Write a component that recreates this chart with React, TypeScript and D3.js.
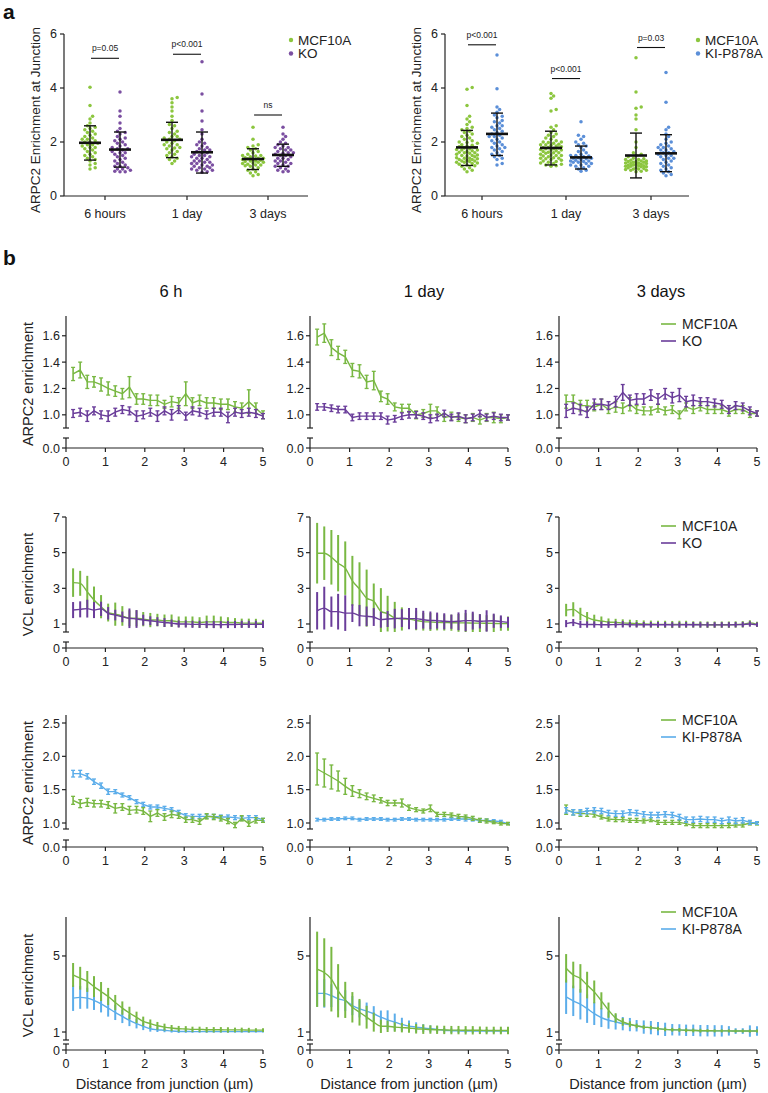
import React from 'react';
import * as d3 from 'd3';

const FONT = "'Liberation Sans', Arial, Helvetica, sans-serif";
const GREEN = '#79b843';
const PURPLE = '#6a3d9a';
const BLUE = '#5badea';
const DOT_GREEN = '#8cc63f';
const DOT_PURPLE = '#7b4fa1';
const DOT_BLUE = '#5b8fd8';

// ---------- Panel a data ----------
const timepoints = ['6 hours', '1 day', '3 days'];
const yTicksA = [0, 2, 4, 6];

const koWT6h = [4.03, 3.35, 2.95, 2.85, 2.7, 2.6, 2.55, 2.5, 2.45, 2.4, 2.35, 2.3, 2.25, 2.2, 2.15, 2.1, 2.05, 2.0, 1.95, 1.9, 1.85, 1.8, 1.8, 1.75, 1.7, 1.65, 1.6, 1.55, 1.5, 1.45, 1.4, 1.35, 1.3, 1.2, 1.15, 1.05, 1.0, 2.0, 2.1, 1.9];
const koKO6h = [3.85, 3.15, 2.95, 2.7, 2.5, 2.4, 2.35, 2.3, 2.2, 2.15, 2.1, 2.0, 1.95, 1.9, 1.85, 1.8, 1.75, 1.7, 1.65, 1.6, 1.55, 1.5, 1.45, 1.4, 1.35, 1.3, 1.25, 1.2, 1.15, 1.1, 1.05, 1.0, 0.95, 0.9, 0.9, 1.0, 2.05, 1.75, 1.6, 1.1, 0.92];
const koWT1d = [3.65, 3.6, 3.45, 3.3, 3.15, 2.95, 2.8, 2.65, 2.6, 2.5, 2.4, 2.35, 2.3, 2.2, 2.15, 2.1, 2.05, 2.0, 1.95, 1.9, 1.85, 1.8, 1.78, 1.7, 1.65, 1.6, 1.55, 1.5, 1.45, 1.4, 1.35, 1.3, 1.2, 2.2, 1.9, 2.1, 1.75];
const koKO1d = [4.97, 3.78, 3.15, 2.78, 2.45, 2.3, 2.1, 2.0, 1.95, 1.9, 1.85, 1.8, 1.75, 1.7, 1.65, 1.6, 1.55, 1.5, 1.45, 1.4, 1.35, 1.3, 1.25, 1.2, 1.15, 1.1, 1.05, 1.0, 0.95, 0.9, 0.88, 1.6, 1.5, 1.4, 1.3, 1.2, 1.1, 1.0, 1.25, 1.45, 1.7, 1.15, 1.05, 0.95];
const koWT3d = [2.55, 2.1, 1.9, 1.85, 1.8, 1.75, 1.7, 1.65, 1.6, 1.55, 1.5, 1.48, 1.45, 1.42, 1.4, 1.38, 1.35, 1.32, 1.3, 1.28, 1.25, 1.22, 1.2, 1.18, 1.15, 1.12, 1.1, 1.05, 1.0, 0.95, 0.9, 0.85, 0.8, 0.75, 1.3, 1.4, 1.25, 1.15, 1.35, 1.5];
const koKO3d = [2.55, 2.3, 2.2, 2.1, 2.0, 1.95, 1.9, 1.85, 1.8, 1.75, 1.7, 1.65, 1.6, 1.58, 1.55, 1.5, 1.45, 1.4, 1.35, 1.3, 1.25, 1.2, 1.15, 1.1, 1.05, 1.0, 0.95, 0.92, 0.9, 1.6, 1.5, 1.4, 1.3, 1.2, 1.1, 1.7, 1.8];
const koMean = [1.97, 1.72, 2.08, 1.62, 1.37, 1.52];
const koLo = [1.33, 1.07, 1.42, 0.85, 0.98, 1.1];
const koHi = [2.6, 2.37, 2.73, 2.37, 1.75, 1.92];
const koP = ['p=0.05', 'p<0.001', 'ns'];
const koPY = [5.1, 5.25, 3.0];

const kiWT6h = [4.02, 3.95, 3.35, 2.95, 2.85, 2.75, 2.65, 2.55, 2.5, 2.45, 2.4, 2.35, 2.3, 2.25, 2.2, 2.15, 2.1, 2.05, 2.0, 1.98, 1.95, 1.9, 1.88, 1.85, 1.82, 1.8, 1.78, 1.75, 1.72, 1.7, 1.68, 1.65, 1.62, 1.6, 1.58, 1.55, 1.52, 1.5, 1.48, 1.45, 1.42, 1.4, 1.38, 1.35, 1.32, 1.3, 1.28, 1.25, 1.22, 1.2, 1.18, 1.15, 1.12, 1.1, 1.05, 1.0, 0.95, 0.9, 1.3, 1.4, 1.5, 1.6, 1.7, 1.25, 1.35];
const kiKI6h = [5.22, 3.97, 3.3, 3.2, 3.1, 3.0, 2.95, 2.9, 2.8, 2.75, 2.7, 2.6, 2.55, 2.5, 2.45, 2.4, 2.35, 2.3, 2.25, 2.2, 2.15, 2.1, 2.05, 2.0, 1.95, 1.9, 1.85, 1.8, 1.75, 1.7, 1.65, 1.6, 1.55, 1.5, 1.45, 1.4, 1.35, 1.2, 1.15, 2.6, 2.2, 1.8];
const kiWT1d = [3.8, 3.7, 3.62, 3.2, 3.15, 2.6, 2.55, 2.45, 2.35, 2.3, 2.25, 2.2, 2.15, 2.1, 2.05, 2.0, 1.98, 1.95, 1.92, 1.9, 1.88, 1.85, 1.82, 1.8, 1.78, 1.75, 1.72, 1.7, 1.68, 1.65, 1.62, 1.6, 1.58, 1.55, 1.52, 1.5, 1.48, 1.45, 1.42, 1.4, 1.38, 1.35, 1.32, 1.3, 1.28, 1.25, 1.22, 1.2, 1.18, 1.15, 1.12, 1.1, 1.6, 1.7, 1.8, 1.9, 1.5, 1.4, 2.0, 1.75];
const kiKI1d = [2.75, 2.25, 2.2, 2.1, 2.0, 1.95, 1.9, 1.85, 1.8, 1.7, 1.65, 1.6, 1.55, 1.5, 1.48, 1.45, 1.42, 1.4, 1.38, 1.35, 1.32, 1.3, 1.28, 1.25, 1.2, 1.15, 1.1, 1.05, 1.0, 0.95, 0.92, 1.3, 1.2, 1.1, 1.4, 1.5, 1.25, 1.15];
const kiWT3d = [5.12, 3.85, 3.3, 3.25, 3.0, 2.85, 2.45, 2.0, 1.8, 1.6, 1.55, 1.5, 1.45, 1.4, 1.38, 1.35, 1.32, 1.3, 1.28, 1.25, 1.22, 1.2, 1.18, 1.15, 1.12, 1.1, 1.08, 1.05, 1.02, 1.0, 0.98, 0.95, 0.92, 0.9, 1.1, 1.2, 1.3, 1.15, 1.25, 1.05, 1.35, 1.0, 1.12, 1.22, 1.18, 1.28, 0.95, 1.08];
const kiKI3d = [4.57, 3.47, 2.55, 2.45, 2.3, 2.2, 2.1, 2.0, 1.95, 1.9, 1.85, 1.8, 1.75, 1.7, 1.65, 1.6, 1.55, 1.5, 1.45, 1.4, 1.35, 1.3, 1.25, 1.2, 1.15, 1.1, 1.05, 1.0, 0.95, 0.9, 0.85, 0.8, 0.75, 1.6, 1.5, 1.4, 1.8, 1.7];
const kiMean = [1.8, 2.3, 1.78, 1.43, 1.5, 1.58];
const kiLo = [1.13, 1.5, 1.15, 1.0, 0.67, 0.9];
const kiHi = [2.43, 3.07, 2.4, 1.85, 2.33, 2.27];
const kiP = ['p<0.001', 'p<0.001', 'p=0.03'];
const kiPY = [5.6, 4.35, 5.5];

// ---------- Panel b data ----------
const distance = [0.18, 0.36, 0.54, 0.71, 0.89, 1.07, 1.25, 1.43, 1.61, 1.79, 1.96, 2.14, 2.32, 2.5, 2.68, 2.86, 3.04, 3.21, 3.39, 3.57, 3.75, 3.93, 4.11, 4.29, 4.46, 4.64, 4.82, 5.0];
const xTicksB = [0, 1, 2, 3, 4, 5];
const colTitles = ['6 h', '1 day', '3 days'];

// Row 1: ARPC2, MCF10A vs KO
const r1WT6h = [1.31, 1.34, 1.25, 1.25, 1.23, 1.2, 1.18, 1.16, 1.21, 1.12, 1.12, 1.11, 1.11, 1.08, 1.1, 1.09, 1.16, 1.09, 1.11, 1.09, 1.09, 1.08, 1.08, 1.06, 1.05, 1.1, 1.05, 1.0];
const r1WT6hE = [0.05, 0.06, 0.05, 0.04, 0.05, 0.05, 0.04, 0.04, 0.08, 0.04, 0.04, 0.04, 0.04, 0.03, 0.04, 0.04, 0.09, 0.04, 0.04, 0.04, 0.04, 0.04, 0.04, 0.04, 0.04, 0.09, 0.04, 0.03];
const r1KO6h = [1.01, 1.02, 0.99, 1.03, 1.0, 0.99, 1.02, 1.04, 1.03, 0.99, 1.0, 1.02, 0.99, 1.03, 1.0, 1.04, 0.99, 1.03, 1.02, 1.0, 1.02, 1.02, 0.98, 1.02, 1.01, 1.02, 1.01, 0.99];
const r1KO6hE = [0.03, 0.03, 0.04, 0.03, 0.03, 0.04, 0.03, 0.03, 0.03, 0.04, 0.03, 0.03, 0.04, 0.03, 0.04, 0.03, 0.03, 0.03, 0.03, 0.03, 0.03, 0.03, 0.04, 0.03, 0.03, 0.03, 0.03, 0.02];
const r1WT1d = [1.59, 1.62, 1.51, 1.47, 1.44, 1.34, 1.33, 1.25, 1.26, 1.14, 1.12, 1.06, 1.05, 1.05, 1.0, 1.01, 1.03, 1.03, 0.98, 0.99, 0.98, 0.97, 0.98, 0.96, 0.98, 0.98, 0.97, 0.98];
const r1WT1dE = [0.06, 0.07, 0.06, 0.05, 0.05, 0.05, 0.05, 0.05, 0.07, 0.04, 0.04, 0.03, 0.03, 0.03, 0.03, 0.03, 0.05, 0.03, 0.03, 0.03, 0.03, 0.03, 0.03, 0.03, 0.03, 0.04, 0.03, 0.02];
const r1KO1d = [1.06, 1.06, 1.05, 1.04, 1.04, 0.98, 0.99, 0.99, 0.99, 0.99, 0.96, 0.97, 0.99, 1.0, 1.0, 0.99, 0.97, 0.98, 1.01, 0.98, 0.99, 0.97, 0.98, 1.01, 0.98, 0.99, 0.98, 0.98];
const r1KO1dE = [0.025, 0.025, 0.025, 0.025, 0.025, 0.025, 0.025, 0.025, 0.025, 0.025, 0.03, 0.025, 0.025, 0.025, 0.025, 0.025, 0.03, 0.025, 0.025, 0.025, 0.025, 0.03, 0.025, 0.025, 0.025, 0.025, 0.025, 0.02];
const r1WT3d = [1.1, 1.1, 1.07, 1.07, 1.06, 1.08, 1.04, 1.06, 1.05, 1.08, 1.04, 1.03, 1.03, 1.05, 1.03, 1.04, 1.0, 1.06, 1.04, 1.06, 1.04, 1.04, 1.04, 1.02, 1.04, 1.04, 1.01, 1.01];
const r1WT3dE = [0.05, 0.05, 0.04, 0.04, 0.03, 0.04, 0.03, 0.04, 0.04, 0.05, 0.03, 0.03, 0.03, 0.03, 0.03, 0.03, 0.03, 0.03, 0.03, 0.03, 0.03, 0.03, 0.03, 0.03, 0.03, 0.03, 0.03, 0.02];
const r1KO3d = [1.03, 1.05, 1.04, 1.02, 1.08, 1.08, 1.07, 1.1, 1.17, 1.11, 1.12, 1.12, 1.15, 1.12, 1.16, 1.13, 1.15, 1.1, 1.11, 1.1, 1.1, 1.09, 1.08, 1.04, 1.07, 1.06, 1.03, 1.01];
const r1KO3dE = [0.05, 0.04, 0.04, 0.04, 0.04, 0.04, 0.03, 0.04, 0.06, 0.04, 0.04, 0.04, 0.04, 0.04, 0.04, 0.04, 0.05, 0.04, 0.04, 0.03, 0.03, 0.03, 0.03, 0.03, 0.03, 0.03, 0.03, 0.02];

// Row 2: VCL, MCF10A vs KO
const r2WT6h = [3.32, 3.28, 2.8, 2.35, 1.97, 1.64, 1.55, 1.45, 1.32, 1.32, 1.27, 1.22, 1.22, 1.18, 1.18, 1.12, 1.12, 1.12, 1.08, 1.12, 1.12, 1.12, 1.08, 1.08, 1.05, 1.05, 1.04, 1.04];
const r2WT6hE = [0.8, 0.7, 0.9, 0.75, 0.65, 0.5, 0.65, 0.55, 0.45, 0.45, 0.4, 0.4, 0.35, 0.35, 0.35, 0.3, 0.3, 0.3, 0.3, 0.35, 0.35, 0.3, 0.3, 0.25, 0.25, 0.25, 0.25, 0.2];
const r2KO6h = [1.78, 1.82, 1.86, 1.78, 1.85, 1.6, 1.5, 1.4, 1.32, 1.28, 1.22, 1.18, 1.13, 1.08, 1.05, 1.0, 1.0, 0.98, 0.98, 0.97, 0.97, 0.96, 0.97, 0.97, 0.98, 0.98, 0.98, 0.98];
const r2KO6hE = [0.45, 0.45, 0.5, 0.45, 0.4, 0.35, 0.3, 0.3, 0.55, 0.5, 0.3, 0.25, 0.25, 0.25, 0.2, 0.2, 0.2, 0.2, 0.2, 0.2, 0.2, 0.2, 0.2, 0.2, 0.2, 0.2, 0.2, 0.2];
const r2WT1d = [4.97, 4.97, 4.74, 4.41, 4.13, 3.42, 2.96, 2.45, 2.27, 1.71, 1.58, 1.34, 1.28, 1.28, 1.2, 1.13, 1.11, 1.09, 1.08, 1.07, 1.06, 1.06, 1.05, 1.05, 1.04, 1.03, 1.02, 1.02];
const r2WT1dE = [1.7, 1.5, 1.53, 1.58, 1.5, 1.4, 1.5, 1.6, 1.0, 1.3, 1.0, 0.9, 0.65, 0.55, 0.55, 0.5, 0.5, 0.45, 0.45, 0.45, 0.5, 0.55, 0.55, 0.5, 0.45, 0.5, 0.4, 0.4];
const r2KO1d = [1.74, 1.89, 1.69, 1.69, 1.61, 1.61, 1.47, 1.43, 1.39, 1.24, 1.28, 1.3, 1.33, 1.3, 1.3, 1.24, 1.2, 1.19, 1.15, 1.13, 1.15, 1.19, 1.19, 1.15, 1.17, 1.18, 1.13, 1.09];
const r2KO1dE = [1.05, 1.2, 0.85, 1.0, 1.0, 0.5, 0.6, 0.55, 0.5, 0.45, 0.45, 0.55, 0.5, 0.6, 0.6, 0.5, 0.5, 0.45, 0.45, 0.4, 0.5, 0.6, 0.5, 0.4, 0.6, 0.4, 0.35, 0.3];
const r2WT3d = [1.78, 1.82, 1.56, 1.37, 1.22, 1.17, 1.11, 1.09, 1.06, 1.04, 1.02, 1.0, 0.99, 0.98, 0.98, 0.97, 0.98, 0.98, 0.97, 0.97, 0.96, 0.96, 0.96, 0.96, 0.97, 0.98, 1.06, 0.98];
const r2WT3dE = [0.35, 0.4, 0.35, 0.3, 0.3, 0.25, 0.2, 0.2, 0.2, 0.2, 0.2, 0.2, 0.2, 0.2, 0.2, 0.2, 0.2, 0.2, 0.18, 0.18, 0.18, 0.18, 0.18, 0.18, 0.18, 0.18, 0.15, 0.15];
const r2KO3d = [1.02, 1.08, 0.98, 0.97, 0.97, 0.96, 0.96, 0.97, 0.98, 0.96, 0.95, 0.96, 0.96, 0.96, 0.96, 0.95, 0.95, 0.96, 0.96, 0.95, 0.95, 0.95, 0.95, 0.95, 0.96, 0.97, 1.0, 0.96];
const r2KO3dE = [0.2, 0.2, 0.2, 0.18, 0.18, 0.18, 0.18, 0.18, 0.18, 0.15, 0.15, 0.15, 0.15, 0.15, 0.15, 0.15, 0.15, 0.15, 0.15, 0.15, 0.15, 0.15, 0.15, 0.15, 0.15, 0.15, 0.15, 0.12];

// Row 3: ARPC2, MCF10A vs KI-P878A
const r3WT6h = [1.34, 1.29, 1.31, 1.29, 1.29, 1.27, 1.22, 1.24, 1.19, 1.2, 1.18, 1.1, 1.15, 1.09, 1.13, 1.11, 1.05, 1.05, 1.02, 1.1, 1.09, 1.07, 1.03, 0.97, 1.07, 0.99, 1.04, 1.04];
const r3WT6hE = [0.06, 0.06, 0.06, 0.05, 0.05, 0.05, 0.07, 0.05, 0.06, 0.05, 0.05, 0.08, 0.05, 0.05, 0.05, 0.04, 0.04, 0.04, 0.04, 0.04, 0.04, 0.04, 0.04, 0.04, 0.04, 0.04, 0.04, 0.03];
const r3KI6h = [1.74, 1.74, 1.7, 1.62, 1.56, 1.47, 1.47, 1.42, 1.38, 1.32, 1.28, 1.24, 1.24, 1.22, 1.2, 1.16, 1.11, 1.1, 1.1, 1.1, 1.1, 1.09, 1.09, 1.08, 1.07, 1.08, 1.08, 1.05];
const r3KI6hE = [0.05, 0.05, 0.04, 0.04, 0.04, 0.04, 0.03, 0.03, 0.03, 0.03, 0.03, 0.03, 0.03, 0.03, 0.03, 0.03, 0.03, 0.03, 0.03, 0.03, 0.03, 0.03, 0.03, 0.03, 0.03, 0.03, 0.03, 0.02];
const r3WT1d = [1.81, 1.75, 1.69, 1.63, 1.55, 1.48, 1.44, 1.4, 1.37, 1.34, 1.3, 1.3, 1.3, 1.23, 1.2, 1.18, 1.22, 1.13, 1.13, 1.12, 1.1, 1.09, 1.07, 1.04, 1.03, 1.01, 0.99, 0.99];
const r3WT1dE = [0.24, 0.21, 0.18, 0.15, 0.12, 0.08, 0.06, 0.05, 0.05, 0.04, 0.04, 0.04, 0.06, 0.04, 0.03, 0.03, 0.05, 0.03, 0.03, 0.03, 0.03, 0.03, 0.03, 0.03, 0.03, 0.02, 0.02, 0.02];
const r3KI1d = [1.05, 1.05, 1.06, 1.06, 1.07, 1.07, 1.05, 1.06, 1.06, 1.06, 1.05, 1.05, 1.06, 1.06, 1.05, 1.05, 1.05, 1.05, 1.05, 1.06, 1.06, 1.06, 1.05, 1.04, 1.04, 1.03, 1.02, 0.99];
const r3KI1dE = [0.02, 0.02, 0.02, 0.02, 0.02, 0.02, 0.02, 0.02, 0.02, 0.02, 0.02, 0.02, 0.02, 0.02, 0.02, 0.02, 0.02, 0.02, 0.02, 0.02, 0.02, 0.03, 0.02, 0.02, 0.02, 0.02, 0.02, 0.01];
const r3WT3d = [1.2, 1.16, 1.14, 1.14, 1.13, 1.09, 1.06, 1.05, 1.05, 1.04, 1.04, 1.03, 1.05, 1.01, 1.01, 1.01, 1.01, 0.99, 0.96, 0.96, 0.96, 0.96, 0.96, 0.96, 0.97, 0.97, 1.0, 0.99];
const r3WT3dE = [0.07, 0.04, 0.04, 0.04, 0.04, 0.03, 0.03, 0.03, 0.03, 0.03, 0.03, 0.03, 0.03, 0.03, 0.03, 0.03, 0.03, 0.03, 0.03, 0.03, 0.03, 0.03, 0.03, 0.03, 0.03, 0.03, 0.03, 0.02];
const r3KI3d = [1.19, 1.16, 1.16, 1.18, 1.19, 1.18, 1.15, 1.14, 1.14, 1.16, 1.15, 1.13, 1.12, 1.12, 1.13, 1.12, 1.09, 1.05, 1.05, 1.06, 1.05, 1.05, 1.03, 1.05, 1.03, 1.04, 1.01, 1.0];
const r3KI3dE = [0.04, 0.04, 0.04, 0.04, 0.04, 0.04, 0.04, 0.04, 0.04, 0.04, 0.04, 0.04, 0.04, 0.04, 0.04, 0.04, 0.04, 0.04, 0.04, 0.04, 0.04, 0.04, 0.04, 0.04, 0.04, 0.04, 0.03, 0.02];

// Row 4: VCL, MCF10A vs KI-P878A
const r4WT6h = [4.0, 3.83, 3.66, 3.39, 3.13, 2.87, 2.55, 2.26, 2.0, 1.77, 1.56, 1.44, 1.33, 1.26, 1.21, 1.17, 1.16, 1.14, 1.14, 1.12, 1.12, 1.12, 1.11, 1.11, 1.11, 1.1, 1.1, 1.1];
const r4WT6hE = [0.63, 0.6, 0.55, 0.55, 0.5, 0.45, 0.4, 0.35, 0.33, 0.3, 0.25, 0.22, 0.2, 0.18, 0.16, 0.15, 0.15, 0.14, 0.14, 0.14, 0.14, 0.14, 0.14, 0.12, 0.12, 0.12, 0.1, 0.1];
const r4KI6h = [2.78, 2.82, 2.78, 2.66, 2.48, 2.26, 2.03, 1.82, 1.61, 1.44, 1.3, 1.17, 1.12, 1.09, 1.05, 1.03, 1.03, 1.02, 1.02, 1.02, 1.02, 1.02, 1.02, 1.02, 1.02, 1.02, 1.02, 1.02];
const r4KI6hE = [0.67, 0.6, 0.55, 0.5, 0.45, 0.45, 0.4, 0.35, 0.3, 0.25, 0.2, 0.15, 0.12, 0.1, 0.08, 0.08, 0.07, 0.06, 0.06, 0.06, 0.05, 0.05, 0.05, 0.05, 0.05, 0.05, 0.05, 0.05];
const r4WT1d = [4.3, 4.13, 3.78, 3.17, 2.69, 2.3, 2.04, 1.78, 1.52, 1.3, 1.3, 1.26, 1.23, 1.21, 1.17, 1.15, 1.13, 1.12, 1.11, 1.1, 1.1, 1.09, 1.09, 1.09, 1.08, 1.08, 1.08, 1.08];
const r4WT1dE = [1.98, 1.8, 1.7, 1.4, 0.95, 0.8, 0.7, 0.6, 0.5, 0.35, 0.3, 0.25, 0.25, 0.25, 0.25, 0.25, 0.22, 0.22, 0.22, 0.22, 0.22, 0.22, 0.22, 0.2, 0.2, 0.2, 0.2, 0.2];
const r4KI1d = [3.03, 3.03, 2.91, 2.74, 2.65, 2.39, 2.22, 2.1, 1.96, 1.78, 1.64, 1.52, 1.4, 1.31, 1.26, 1.21, 1.17, 1.14, 1.09, 1.07, 1.06, 1.05, 1.05, 1.05, 1.05, 1.05, 1.05, 1.05];
const r4KI1dE = [0.7, 0.75, 0.6, 0.6, 0.55, 0.5, 0.45, 0.45, 0.4, 0.35, 0.5, 0.45, 0.35, 0.3, 0.25, 0.2, 0.18, 0.15, 0.12, 0.12, 0.1, 0.1, 0.1, 0.1, 0.1, 0.1, 0.1, 0.1];
const r4WT3d = [4.35, 4.0, 3.82, 3.47, 3.11, 2.64, 2.15, 1.74, 1.53, 1.41, 1.32, 1.26, 1.23, 1.18, 1.14, 1.12, 1.11, 1.09, 1.08, 1.07, 1.07, 1.06, 1.06, 1.06, 1.05, 1.05, 1.05, 1.05];
const r4WT3dE = [0.75, 0.7, 0.75, 0.7, 0.6, 0.45, 0.4, 0.25, 0.2, 0.15, 0.12, 0.1, 0.1, 0.1, 0.1, 0.1, 0.1, 0.1, 0.1, 0.1, 0.08, 0.08, 0.08, 0.08, 0.08, 0.08, 0.08, 0.08];
const r4KI3d = [2.85, 2.64, 2.46, 2.23, 1.97, 1.76, 1.62, 1.53, 1.44, 1.39, 1.33, 1.26, 1.23, 1.18, 1.14, 1.12, 1.11, 1.09, 1.09, 1.07, 1.07, 1.06, 1.06, 1.06, 1.05, 1.05, 1.05, 1.05];
const r4KI3dE = [0.9, 0.8, 0.8, 0.75, 0.6, 0.5, 0.45, 0.4, 0.35, 0.35, 0.3, 0.35, 0.35, 0.35, 0.35, 0.3, 0.3, 0.3, 0.3, 0.3, 0.3, 0.3, 0.3, 0.25, 0.15, 0.15, 0.3, 0.25];

// ---------- helpers ----------
type Pt = { x: number; y: number };
// Deterministic beeswarm layout, limited to a maximum half-width.
function swarm(values: number[], cx: number, y: (v: number) => number, minD: number, maxOff: number): Pt[] {
  const sorted = values.slice().sort((a, b) => a - b);
  const placed: Pt[] = [];
  const step = 2.6;
  const offsets: number[] = [0];
  for (let k = 1; k * step <= maxOff; k++) offsets.push(k * step, -k * step);
  for (const v of sorted) {
    const py = y(v);
    let best = offsets[0];
    let bestD = -1;
    let done = false;
    for (const off of offsets) {
      const px = cx + off;
      let nearest = Infinity;
      for (const p of placed) {
        const dd = Math.hypot(p.x - px, p.y - py);
        if (dd < nearest) nearest = dd;
      }
      if (nearest >= minD) {
        placed.push({ x: px, y: py });
        done = true;
        break;
      }
      if (nearest > bestD) {
        bestD = nearest;
        best = off;
      }
    }
    if (!done) placed.push({ x: cx + best, y: py });
  }
  return placed;
}

type ScatterProps = {
  axX: number;
  axEnd: number;
  tickX: number[];
  groups: number[][];
  colors: string[];
  means: number[];
  lo: number[];
  hi: number[];
  pLabels: string[];
  pY: number[];
  legend: string[];
  legendX: number;
};

function ScatterPanel(p: ScatterProps) {
  const y = d3.scaleLinear().domain([0, 6]).range([196, 34]);
  const off = 15;
  const centers: number[] = [];
  p.tickX.forEach((t) => {
    centers.push(t - off, t + off);
  });
  return (
    <g fontFamily={FONT}>
      {p.groups.map((vals, gi) =>
        swarm(vals, centers[gi], y, 3.3, 11).map((pt, i) => (
          <circle key={`${gi}-${i}`} cx={pt.x} cy={pt.y} r={1.75} fill={p.colors[gi % 2]} />
        ))
      )}
      {p.means.map((m, gi) => (
        <g key={`m${gi}`} stroke="#111" fill="none">
          <line x1={centers[gi]} x2={centers[gi]} y1={y(p.lo[gi])} y2={y(p.hi[gi])} strokeWidth={1.4} />
          <line x1={centers[gi] - 6} x2={centers[gi] + 6} y1={y(p.lo[gi])} y2={y(p.lo[gi])} strokeWidth={1.4} />
          <line x1={centers[gi] - 6} x2={centers[gi] + 6} y1={y(p.hi[gi])} y2={y(p.hi[gi])} strokeWidth={1.4} />
          <line x1={centers[gi] - 11} x2={centers[gi] + 11} y1={y(m)} y2={y(m)} strokeWidth={2.6} />
        </g>
      ))}
      {p.pLabels.map((lab, i) => (
        <g key={`p${i}`}>
          <line x1={centers[2 * i] + 1} x2={centers[2 * i + 1] - 1} y1={y(p.pY[i])} y2={y(p.pY[i])} stroke="#111" strokeWidth={1.1} />
          <text x={p.tickX[i]} y={y(p.pY[i]) - 7} fontSize={8.5} textAnchor="middle" fill="#222">{lab}</text>
        </g>
      ))}
      {/* axes */}
      <line x1={p.axX} x2={p.axX} y1={y(6)} y2={y(0)} stroke="#222" strokeWidth={1.2} />
      <line x1={p.axX} x2={p.axEnd} y1={y(0)} y2={y(0)} stroke="#222" strokeWidth={1.2} />
      {yTicksA.map((t) => (
        <g key={`yt${t}`}>
          <line x1={p.axX - 4} x2={p.axX} y1={y(t)} y2={y(t)} stroke="#222" strokeWidth={1.2} />
          <text x={p.axX - 7} y={y(t) + 4} fontSize={12.5} textAnchor="end" fill="#222">{t}</text>
        </g>
      ))}
      {p.tickX.map((t, i) => (
        <g key={`xt${i}`}>
          <line x1={t} x2={t} y1={y(0)} y2={y(0) + 4} stroke="#222" strokeWidth={1.2} />
          <text x={t} y={y(0) + 22} fontSize={12.5} textAnchor="middle" fill="#222">{timepoints[i]}</text>
        </g>
      ))}
      <text transform={`translate(${p.axX - 24},${(y(0) + y(6)) / 2 + 5}) rotate(-90)`} fontSize={13.5} textAnchor="middle" fill="#222">
        ARPC2 Enrichment at Junction
      </text>
      {p.legend.map((l, i) => (
        <g key={`lg${i}`}>
          <circle cx={p.legendX} cy={40 + i * 13.5} r={2.2} fill={p.colors[i]} />
          <text x={p.legendX + 7} y={44.5 + i * 13.5} fontSize={13.5} fill="#222">{l}</text>
        </g>
      ))}
    </g>
  );
}

type Series = { mean: number[]; err: number[]; color: string };
type LineProps = {
  x0: number;
  x1: number;
  dom: [number, number];
  rng: [number, number];
  lower: [number, number];
  ticks: number[];
  fmt: (v: number) => string;
  zeroLabel: string;
  series: Series[];
  caps: boolean;
  smooth: boolean;
  showYLabel?: string;
  xLabel?: boolean;
};

function LinePanel(p: LineProps) {
  const x = d3.scaleLinear().domain([0, 5]).range([p.x0, p.x1]);
  const y = d3.scaleLinear().domain(p.dom).range(p.rng);
  const cl = (v: number) => Math.max(p.dom[0], Math.min(p.dom[1], v));
  const line = d3
    .line<number>()
    .x((_, i) => x(distance[i]))
    .y((d) => y(d))
    .curve(p.smooth ? d3.curveMonotoneX : d3.curveLinear);
  const zero = p.lower[1];
  return (
    <g fontFamily={FONT}>
      {p.series.map((s, si) => (
        <g key={si} stroke={s.color} fill="none">
          {s.mean.map((m, i) => {
            const xi = x(distance[i]);
            const a = y(cl(m - s.err[i]));
            const b = y(cl(m + s.err[i]));
            return (
              <g key={i}>
                <line x1={xi} x2={xi} y1={a} y2={b} strokeWidth={p.caps ? 1.6 : 2} />
                {p.caps && (
                  <>
                    <line x1={xi - 2} x2={xi + 2} y1={a} y2={a} strokeWidth={1.3} />
                    <line x1={xi - 2} x2={xi + 2} y1={b} y2={b} strokeWidth={1.3} />
                  </>
                )}
              </g>
            );
          })}
          <path d={line(s.mean) || ''} strokeWidth={1.4} />
        </g>
      ))}
      {/* y axis upper */}
      <line x1={p.x0} x2={p.x0} y1={p.rng[0]} y2={p.rng[1]} stroke="#222" strokeWidth={1.2} />
      <line x1={p.x0 - 3} x2={p.x0 + 3} y1={p.rng[0]} y2={p.rng[0]} stroke="#222" strokeWidth={1.2} />
      {p.ticks.map((t) => (
        <g key={`t${t}`}>
          <line x1={p.x0 - 4} x2={p.x0} y1={y(t)} y2={y(t)} stroke="#222" strokeWidth={1.2} />
          <text x={p.x0 - 6} y={y(t) + 4.5} fontSize={12.5} textAnchor="end" fill="#222">{p.fmt(t)}</text>
        </g>
      ))}
      {/* y axis lower */}
      <line x1={p.x0} x2={p.x0} y1={p.lower[0]} y2={zero} stroke="#222" strokeWidth={1.2} />
      <line x1={p.x0 - 3} x2={p.x0 + 3} y1={p.lower[0]} y2={p.lower[0]} stroke="#222" strokeWidth={1.2} />
      <line x1={p.x0 - 4} x2={p.x0} y1={zero} y2={zero} stroke="#222" strokeWidth={1.2} />
      <text x={p.x0 - 6} y={zero + 4.5} fontSize={12.5} textAnchor="end" fill="#222">{p.zeroLabel}</text>
      {/* x axis */}
      <line x1={p.x0} x2={p.x1} y1={zero} y2={zero} stroke="#222" strokeWidth={1.2} />
      {xTicksB.map((t) => (
        <g key={`x${t}`}>
          <line x1={x(t)} x2={x(t)} y1={zero} y2={zero + 4} stroke="#222" strokeWidth={1.2} />
          <text x={x(t)} y={zero + 18} fontSize={12.5} textAnchor="middle" fill="#222">{t}</text>
        </g>
      ))}
      {p.showYLabel && (
        <text transform={`translate(${p.x0 - 33},${(p.rng[1] + zero) / 2 + 2}) rotate(-90)`} fontSize={14.5} textAnchor="middle" fill="#222">
          {p.showYLabel}
        </text>
      )}
      {p.xLabel && (
        <text x={(p.x0 + p.x1) / 2} y={zero + 39} fontSize={14.5} textAnchor="middle" fill="#222">
          Distance from junction (µm)
        </text>
      )}
    </g>
  );
}

const cols: [number, number][] = [
  [66, 263],
  [310, 508],
  [559, 757],
];
const titleX = [171, 424, 661];

type RowSpec = {
  dom: [number, number];
  rng: [number, number];
  lower: [number, number];
  ticks: number[];
  fmt: (v: number) => string;
  zeroLabel: string;
  caps: boolean;
  smooth: boolean;
  label: string;
  legend: string[];
  legendColors: string[];
  legendY: number;
  data: Series[][];
};

const rows: RowSpec[] = [
  {
    dom: [0.9, 1.75], rng: [428, 316], lower: [438, 448], ticks: [1.0, 1.2, 1.4, 1.6], fmt: (v) => v.toFixed(1), zeroLabel: '0.0',
    caps: true, smooth: false, label: 'ARPC2 enrichment', legend: ['MCF10A', 'KO'], legendColors: [GREEN, PURPLE], legendY: 324,
    data: [
      [{ mean: r1WT6h, err: r1WT6hE, color: GREEN }, { mean: r1KO6h, err: r1KO6hE, color: PURPLE }],
      [{ mean: r1WT1d, err: r1WT1dE, color: GREEN }, { mean: r1KO1d, err: r1KO1dE, color: PURPLE }],
      [{ mean: r1WT3d, err: r1WT3dE, color: GREEN }, { mean: r1KO3d, err: r1KO3dE, color: PURPLE }],
    ],
  },
  {
    dom: [0.55, 7], rng: [632, 517], lower: [642, 648], ticks: [1, 3, 5, 7], fmt: (v) => String(v), zeroLabel: '0',
    caps: false, smooth: true, label: 'VCL enrichment', legend: ['MCF10A', 'KO'], legendColors: [GREEN, PURPLE], legendY: 526,
    data: [
      [{ mean: r2WT6h, err: r2WT6hE, color: GREEN }, { mean: r2KO6h, err: r2KO6hE, color: PURPLE }],
      [{ mean: r2WT1d, err: r2WT1dE, color: GREEN }, { mean: r2KO1d, err: r2KO1dE, color: PURPLE }],
      [{ mean: r2WT3d, err: r2WT3dE, color: GREEN }, { mean: r2KO3d, err: r2KO3dE, color: PURPLE }],
    ],
  },
  {
    dom: [0.91, 2.62], rng: [829, 715], lower: [840, 847], ticks: [1.0, 1.5, 2.0, 2.5], fmt: (v) => v.toFixed(1), zeroLabel: '0.0',
    caps: true, smooth: false, label: 'ARPC2 enrichment', legend: ['MCF10A', 'KI-P878A'], legendColors: [GREEN, BLUE], legendY: 720,
    data: [
      [{ mean: r3KI6h, err: r3KI6hE, color: BLUE }, { mean: r3WT6h, err: r3WT6hE, color: GREEN }],
      [{ mean: r3KI1d, err: r3KI1dE, color: BLUE }, { mean: r3WT1d, err: r3WT1dE, color: GREEN }],
      [{ mean: r3WT3d, err: r3WT3dE, color: GREEN }, { mean: r3KI3d, err: r3KI3dE, color: BLUE }],
    ],
  },
  {
    dom: [0.58, 7.05], rng: [1040, 917], lower: [1044, 1050], ticks: [1, 5], fmt: (v) => String(v), zeroLabel: '0',
    caps: false, smooth: true, label: 'VCL enrichment', legend: ['MCF10A', 'KI-P878A'], legendColors: [GREEN, BLUE], legendY: 912,
    data: [
      [{ mean: r4KI6h, err: r4KI6hE, color: BLUE }, { mean: r4WT6h, err: r4WT6hE, color: GREEN }],
      [{ mean: r4KI1d, err: r4KI1dE, color: BLUE }, { mean: r4WT1d, err: r4WT1dE, color: GREEN }],
      [{ mean: r4KI3d, err: r4KI3dE, color: BLUE }, { mean: r4WT3d, err: r4WT3dE, color: GREEN }],
    ],
  },
];

export default function App() {
  return (
    <svg width={768} height={1093} style={{ position: 'absolute', left: 0, top: 0, background: '#fff' }} fontFamily={FONT}>
      <rect width={768} height={1093} fill="#fff" />
      <text x={3} y={19} fontSize={21} fontWeight="bold" fill="#111">a</text>
      <text x={3} y={265} fontSize={21} fontWeight="bold" fill="#111">b</text>

      <ScatterPanel
        axX={64} axEnd={308} tickX={[105, 187, 268]}
        groups={[koWT6h, koKO6h, koWT1d, koKO1d, koWT3d, koKO3d]}
        colors={[DOT_GREEN, DOT_PURPLE]} means={koMean} lo={koLo} hi={koHi}
        pLabels={koP} pY={koPY} legend={['MCF10A', 'KO']} legendX={291}
      />
      <ScatterPanel
        axX={445} axEnd={689} tickX={[482, 566, 651]}
        groups={[kiWT6h, kiKI6h, kiWT1d, kiKI1d, kiWT3d, kiKI3d]}
        colors={[DOT_GREEN, DOT_BLUE]} means={kiMean} lo={kiLo} hi={kiHi}
        pLabels={kiP} pY={kiPY} legend={['MCF10A', 'KI-P878A']} legendX={698}
      />

      {colTitles.map((t, i) => (
        <text key={t} x={titleX[i]} y={297} fontSize={16.5} textAnchor="middle" fill="#111">{t}</text>
      ))}

      {rows.map((r, ri) => (
        <g key={ri}>
          {cols.map((c, ci) => (
            <LinePanel
              key={ci}
              x0={c[0]} x1={c[1]} dom={r.dom} rng={r.rng} lower={r.lower} ticks={r.ticks} fmt={r.fmt}
              zeroLabel={r.zeroLabel} series={r.data[ci]} caps={r.caps} smooth={r.smooth}
              showYLabel={ci === 0 ? r.label : undefined} xLabel={ri === 3}
            />
          ))}
          {r.legend.map((l, li) => (
            <g key={l} fontFamily={FONT}>
              <line x1={661} x2={676} y1={r.legendY + li * 17} y2={r.legendY + li * 17} stroke={r.legendColors[li]} strokeWidth={1.6} />
              <text x={682} y={r.legendY + li * 17 + 5} fontSize={14} fill="#222">{l}</text>
            </g>
          ))}
        </g>
      ))}
    </svg>
  );
}
